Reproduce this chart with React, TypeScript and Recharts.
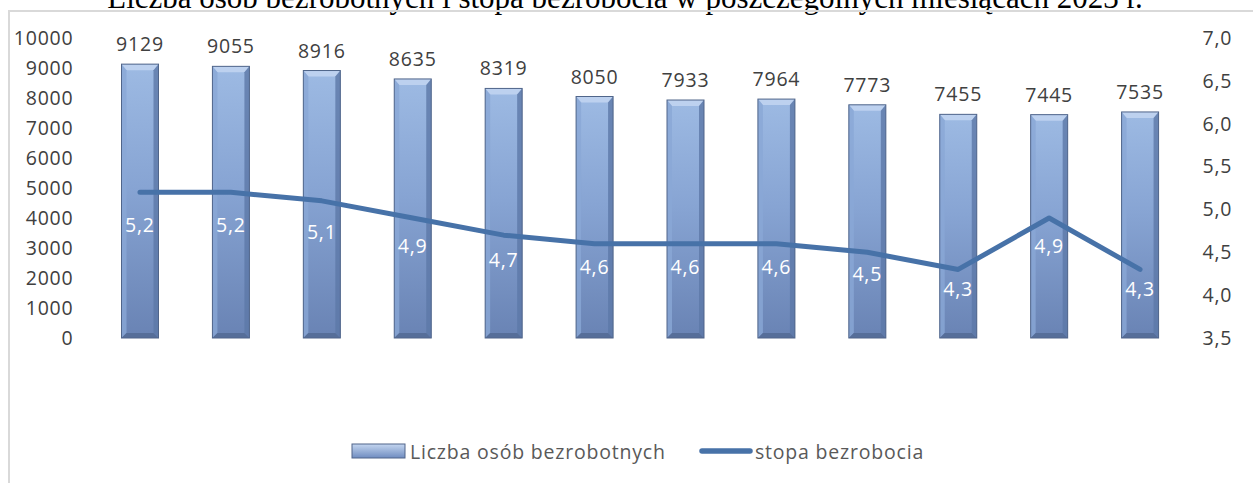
import React from 'react';
import {
    ComposedChart,
    Bar,
    Line,
    XAxis,
    YAxis,
    LabelList
} from 'recharts';

const months = ['I', 'II', 'III', 'IV', 'V', 'VI', 'VII', 'VIII', 'IX', 'X', 'XI', 'XII'];
const unemployed = [9129, 9055, 8916, 8635, 8319, 8050, 7933, 7964, 7773, 7455, 7445, 7535];
const rate = [5.2, 5.2, 5.1, 4.9, 4.7, 4.6, 4.6, 4.6, 4.5, 4.3, 4.9, 4.3];
const leftTicks = [0, 1000, 2000, 3000, 4000, 5000, 6000, 7000, 8000, 9000, 10000];
const rightTicks = [3.5, 4.0, 4.5, 5.0, 5.5, 6.0, 6.5, 7.0];

const TITLE = 'Liczba osób bezrobotnych i stopa bezrobocia w poszczególnych miesiącach 2023 r.';
const BAR_LABEL = 'Liczba osób bezrobotnych';
const LINE_LABEL = 'stopa bezrobocia';

const data = months.map((m, i) => ({ month: m, count: unemployed[i], rate: rate[i] }));

const FONT = '"Open Sans", sans-serif';
const FS = 19.5;
const LS = 0.8;
const TEXT = '#404040';
const LINE_COLOR = '#4772a8';

const fmtRate = (v: number) => v.toFixed(1).replace('.', ',');

// bevelled bar like the excel one
const BevelBar = (props: any) => {
    const { x, y, width, height } = props;
    if (!height || height <= 0) return null;
    const b = 5;
    return (
        <g>
            <rect x={x} y={y} width={width} height={height} fill="url(#barFill)" />
            <polygon
                points={`${x},${y} ${x + width},${y} ${x + width - b},${y + b + 1} ${x + b},${y + b + 1}`}
                fill="#bdd1ef"
            />
            <polygon
                points={`${x},${y} ${x + b},${y + b + 1} ${x + b},${y + height - b} ${x},${y + height}`}
                fill="#8aa7d6"
                opacity={0.8}
            />
            <polygon
                points={`${x + width},${y} ${x + width - b},${y + b + 1} ${x + width - b},${y + height - b} ${x + width},${y + height}`}
                fill="#5d78a8"
                opacity={0.8}
            />
            <polygon
                points={`${x},${y + height} ${x + b},${y + height - b} ${x + width - b},${y + height - b} ${x + width},${y + height}`}
                fill="#566e99"
            />
            <rect x={x} y={y} width={width} height={height} fill="none" stroke="#50658a" strokeWidth={1} />
        </g>
    );
};

// labels sit a bit closer to the line when the point is low
const RateLabel = (props: any) => {
    const { x, y, value } = props;
    const dy = 32 - 0.17 * (y - 191);
    return (
        <text x={x} y={y + dy} fill="#ffffff" fontSize={FS} letterSpacing={LS} fontFamily={FONT} textAnchor="middle" dominantBaseline="central">
            {fmtRate(value)}
        </text>
    );
};

const CustomLegend = () => (
    <svg width={1253} height={40} style={{ position: 'absolute', left: 0, top: 431 }}>
        <defs>
            <linearGradient id="legFill" x1="0" y1="0" x2="0" y2="1">
                <stop offset="0%" stopColor="#c4d6f0" />
                <stop offset="100%" stopColor="#6f8cc0" />
            </linearGradient>
        </defs>
        <rect x={352} y={13} width={53} height={14} fill="url(#legFill)" stroke="#50658a" />
        <line x1={702} y1={20} x2={750} y2={20} stroke={LINE_COLOR} strokeWidth={5.5} strokeLinecap="round" />
        <text x={410} y={20} dominantBaseline="central" fill="#595959" fontSize={FS} letterSpacing={LS} fontFamily={FONT}>{BAR_LABEL}</text>
        <text x={755} y={20} dominantBaseline="central" fill="#595959" fontSize={FS} letterSpacing={LS} fontFamily={FONT}>{LINE_LABEL}</text>
    </svg>
);

export default function App() {
    return (
        <div style={{ position: 'absolute', left: 0, top: 0, width: 1253, height: 483, overflow: 'hidden', background: '#fff' }}>
            <svg width={1253} height={30} style={{ position: 'absolute', left: 0, top: 0 }}>
                <text x={625} y={8} textAnchor="middle" fontFamily='"Liberation Serif", "Times New Roman", serif' fontSize={31} fill="#000">
                    {TITLE}
                </text>
            </svg>
            <div style={{ position: 'absolute', left: 8, top: 10, width: 1260, height: 480, borderLeft: '2px solid #d9d9d9', borderTop: '2px solid #d9d9d9' }} />
            <div style={{ position: 'absolute', left: 0, top: 0 }}>
                <ComposedChart
                    width={1253}
                    height={483}
                    data={data}
                    margin={{ top: 38, right: 8, bottom: 145, left: 0 }}
                    barCategoryGap={0}
                >
                    <defs>
                        <linearGradient id="barFill" x1="0" y1="0" x2="0" y2="1">
                            <stop offset="0%" stopColor="#9dbae3" />
                            <stop offset="45%" stopColor="#87a4d3" />
                            <stop offset="100%" stopColor="#6983b4" />
                        </linearGradient>
                    </defs>
                    <XAxis dataKey="month" hide />
                    <YAxis
                        yAxisId="left"
                        domain={[0, 10000]}
                        ticks={leftTicks}
                        width={94.5}
                        axisLine={false}
                        tickLine={false}
                        tickSize={0}
                        tickMargin={21}
                        interval={0}
                        tick={{ fill: TEXT, fontSize: FS, fontFamily: FONT, letterSpacing: LS }}
                    />
                    <YAxis
                        yAxisId="right"
                        orientation="right"
                        domain={[3.5, 7]}
                        ticks={rightTicks}
                        width={59.5}
                        axisLine={false}
                        tickLine={false}
                        tickSize={0}
                        tickMargin={17}
                        interval={0}
                        tickFormatter={fmtRate}
                        tick={{ fill: TEXT, fontSize: FS, fontFamily: FONT, letterSpacing: LS, textAnchor: 'start' }}
                    />
                    <Bar yAxisId="left" dataKey="count" barSize={37} shape={<BevelBar />} isAnimationActive={false}>
                        <LabelList dataKey="count" position="top" offset={13} fill={TEXT} fontSize={FS} letterSpacing={LS} fontFamily={FONT} />
                    </Bar>
                    <Line
                        yAxisId="right"
                        dataKey="rate"
                        type="linear"
                        stroke={LINE_COLOR}
                        strokeWidth={5}
                        strokeLinecap="round"
                        strokeLinejoin="round"
                        dot={false}
                        activeDot={false}
                        isAnimationActive={false}
                    >
                        <LabelList dataKey="rate" content={<RateLabel />} />
                    </Line>
                </ComposedChart>
            </div>
            <CustomLegend />
        </div>
    );
}
